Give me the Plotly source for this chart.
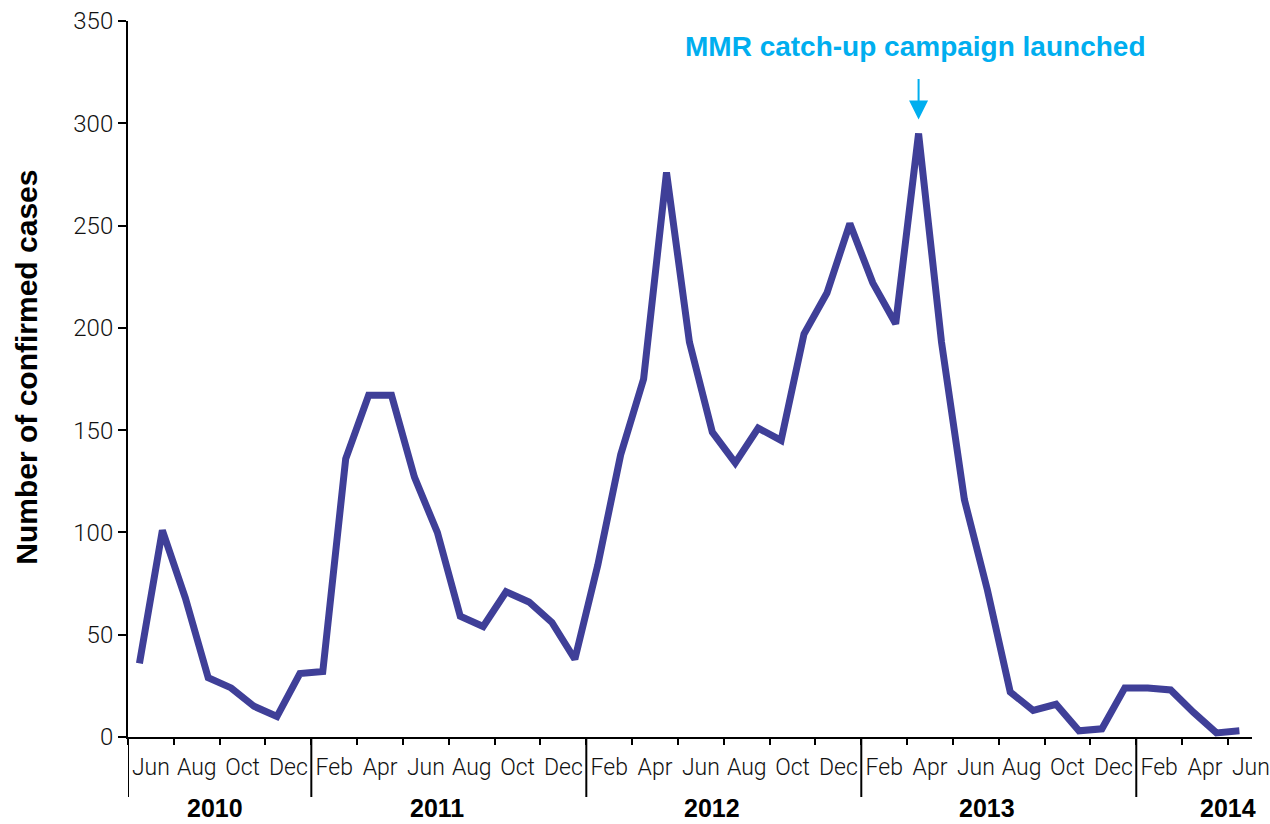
import plotly.graph_objects as go

# ---------------- data ----------------
start_year = 2010
start_month = 5  # May 2010
cases = [36, 101, 68, 29, 24, 15, 10, 31, 32,
         136, 167, 167, 127, 100, 59, 54, 71, 66, 56, 38,
         84, 138, 175, 276, 193, 149, 134, 151, 145, 197, 217, 251,
         222, 202, 295, 193, 116, 72, 22, 13, 16, 3, 4, 24,
         24, 23, 12, 2, 3]
month_tick_labels = ["Jun", "Aug", "Oct", "Dec",
                     "Feb", "Apr", "Jun", "Aug", "Oct", "Dec",
                     "Feb", "Apr", "Jun", "Aug", "Oct", "Dec",
                     "Feb", "Apr", "Jun", "Aug", "Oct", "Dec",
                     "Feb", "Apr", "Jun"]
year_labels = ["2010", "2011", "2012", "2013", "2014"]
annotation_text = "MMR catch-up campaign launched"
annotation_month = 34  # April 2013

# ---------------- derived ----------------
n = len(cases)
x_idx = list(range(n))
month_year = [start_year + (start_month - 1 + i) // 12 for i in range(n)]
tick_pos = [2 * k + 0.5 for k in range(len(month_tick_labels))]
boundary_pos = [2 * k - 0.5 for k in range(len(month_tick_labels))]
year_first_idx = [month_year.index(int(y)) for y in year_labels]
sep_pos = [i - 0.5 for i in year_first_idx]
year_label_x = [3.3, 13.0, 25.0, 37.0, 47.5]

LINE = "#3f3f98"
CYAN = "#00aeef"
LIGHT = "Roboto"
BOLD = "Liberation Sans, Arial, sans-serif"

fig = go.Figure()
fig.add_trace(go.Scatter(x=x_idx, y=cases, mode="lines",
                         line=dict(color=LINE, width=7),
                         hoverinfo="skip", showlegend=False))

shapes = []
for s in sep_pos:
    shapes.append(dict(type="line", xref="x", yref="paper", x0=s, x1=s,
                       y0=0, y1=-0.0838, line=dict(color="black", width=2)))

annotations = []
for lbl, xp in zip(year_labels, year_label_x):
    annotations.append(dict(text=lbl, x=xp, y=-0.099, xref="x", yref="paper",
                            showarrow=False, xanchor="center", yanchor="middle",
                            font=dict(family=BOLD, size=25, color="black", weight="bold")))
annotations.append(dict(text="Number of confirmed cases", x=-0.09, y=0.517,
                        xref="paper", yref="paper", textangle=-90, showarrow=False,
                        xanchor="center", yanchor="middle",
                        font=dict(family=BOLD, size=30, color="black", weight="bold")))
annotations.append(dict(text="", x=annotation_month, y=cases[annotation_month],
                        xref="x", yref="y", showarrow=True, ax=0, ay=-56,
                        standoff=14, arrowhead=2, arrowsize=1.9, arrowwidth=2,
                        arrowcolor=CYAN))
annotations.append(dict(text=annotation_text, x=annotation_month - 0.15,
                        y=(737 - 47) / 716.0, xref="x", yref="paper", showarrow=False,
                        xanchor="center", yanchor="middle",
                        font=dict(family=BOLD, size=28, color=CYAN, weight="bold")))

fig.update_layout(
    width=1270, height=824,
    margin=dict(l=128, r=18, t=21, b=87, autoexpand=False),
    plot_bgcolor="white", paper_bgcolor="white",
    shapes=shapes, annotations=annotations,
    xaxis=dict(range=[-0.5, 48.55], showgrid=False, zeroline=False, automargin=False,
               showline=True, linecolor="black", linewidth=2,
               tickmode="array", tickvals=tick_pos, ticktext=month_tick_labels,
               ticks="outside", ticklen=8, tickcolor="rgba(0,0,0,0)",
               tickfont=dict(family=LIGHT, size=23, color="#111", weight=300),
               minor=dict(tickmode="array", tickvals=boundary_pos, ticks="outside",
                          ticklen=6, tickwidth=2, tickcolor="black", showgrid=False)),
    yaxis=dict(range=[0, 350], showgrid=False, zeroline=False, automargin=False,
               showline=True, linecolor="black", linewidth=2,
               tickmode="array", tickvals=list(range(0, 351, 50)),
               ticks="outside", ticklen=8, tickwidth=2, tickcolor="black",
               tickfont=dict(family=LIGHT, size=24, color="#111", weight=300)),
)

fig.write_html("out.html", config={"displayModeBar": False},
               post_script="document.body.style.margin='0';document.body.style.overflow='hidden';")
